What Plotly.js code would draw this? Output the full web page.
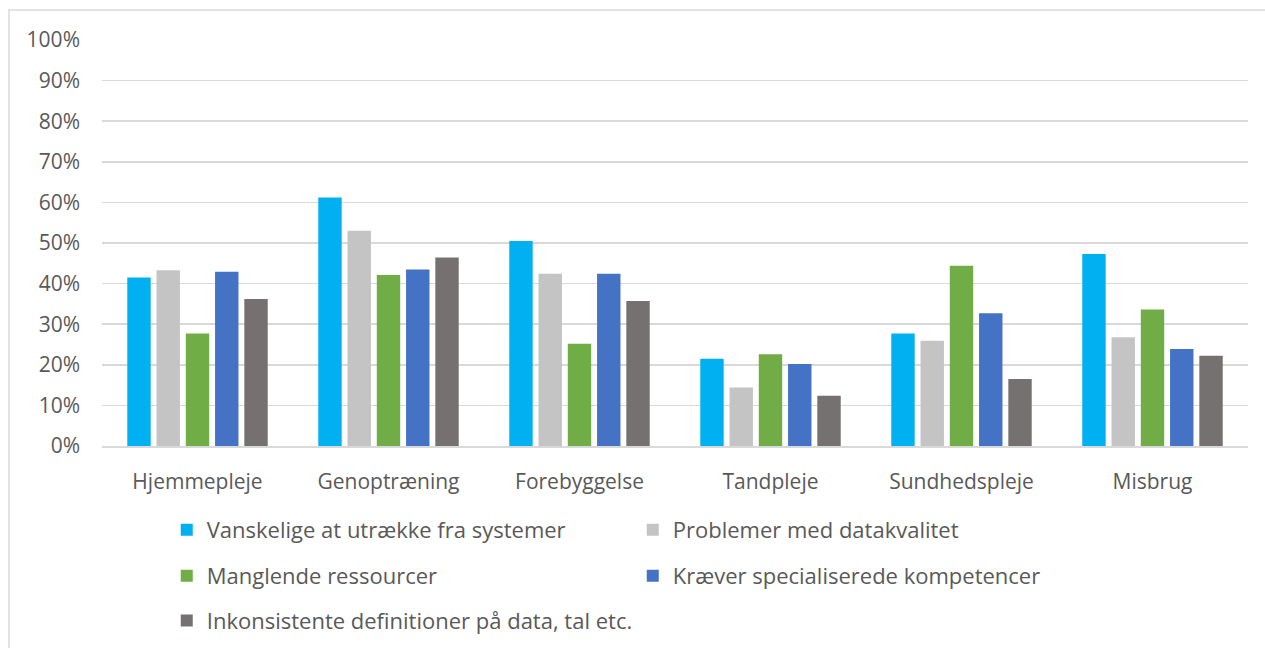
<!DOCTYPE html>
<html>
<head>
<meta charset="utf-8">
<script src="https://cdn.plot.ly/plotly-3.0.1.min.js"></script>
<style>html,body{margin:0;padding:0;background:#fff;}#chart{width:1265px;height:648px;}</style>
</head>
<body>
<div id="chart"></div>
<script>
const categories = ["Hjemmepleje", "Genoptræning", "Forebyggelse", "Tandpleje", "Sundhedspleje", "Misbrug"];
const seriesNames = [
  "Vanskelige at utrække fra systemer",
  "Problemer med datakvalitet",
  "Manglende ressourcer",
  "Kræver specialiserede kompetencer",
  "Inkonsistente definitioner på data, tal etc."
];
const vanskelige = [0.415, 0.612, 0.505, 0.215, 0.277, 0.473];
const datakvalitet = [0.433, 0.530, 0.424, 0.144, 0.259, 0.268];
const ressourcer = [0.277, 0.421, 0.252, 0.226, 0.444, 0.336];
const kompetencer = [0.429, 0.435, 0.424, 0.202, 0.327, 0.239];
const definitioner = [0.362, 0.464, 0.357, 0.124, 0.165, 0.222];
const yTickVals = [0, 0.1, 0.2, 0.3, 0.4, 0.5, 0.6, 0.7, 0.8, 0.9, 1.0];
const yTickText = ["0%", "10%", "20%", "30%", "40%", "50%", "60%", "70%", "80%", "90%", "100%"];

const colors = ["#00B0F0", "#C4C4C4", "#70AD47", "#4472C4", "#767171"];
const values = [vanskelige, datakvalitet, ressourcer, kompetencer, definitioner];
const legendIds = ["legend", "legend", "legend2", "legend2", "legend3"];

const traces = values.map((v, i) => ({
  type: "bar",
  name: seriesNames[i],
  x: categories,
  y: v,
  marker: {color: colors[i], line: {width: 0}},
  legend: legendIds[i],
  hoverinfo: "x+y+name"
}));

const family = "Open Sans, Noto Sans, sans-serif";
const font = {family: family, size: 21, color: "#595959"};
const catFont = {family: family, size: 21, color: "#595959"};
const legFont = {family: family, size: 22, color: "#595959"};
const legendBase = {
  orientation: "h",
  xanchor: "left",
  yanchor: "middle",
  x: 0.0565,
  entrywidth: 421,
  entrywidthmode: "pixels",
  font: legFont,
  bgcolor: "rgba(0,0,0,0)",
  itemclick: false,
  itemdoubleclick: false
};

const layout = {
  width: 1265,
  height: 648,
  margin: {l: 102, r: 17, t: 40, b: 202, autoexpand: false},
  paper_bgcolor: "#ffffff",
  plot_bgcolor: "#ffffff",
  font: font,
  barmode: "group",
  bargap: 0.234,
  bargroupgap: 0.2,
  xaxis: {
    type: "category",
    showgrid: false,
    showline: true,
    linecolor: "#D9D9D9",
    linewidth: 1.5,
    ticks: "",
    ticklabelstandoff: 16,
    tickfont: catFont,
    automargin: false,
    fixedrange: true
  },
  yaxis: {
    range: [0, 1.0],
    tickvals: yTickVals,
    ticktext: yTickText,
    showgrid: true,
    gridcolor: "#D9D9D9",
    gridwidth: 1.5,
    zeroline: false,
    showline: false,
    ticks: "",
    ticklabelstandoff: 21,
    tickfont: font,
    automargin: false,
    fixedrange: true
  },
  showlegend: true,
  legend: Object.assign({}, legendBase, {y: -0.207}),
  legend2: Object.assign({}, legendBase, {y: -0.32}),
  legend3: Object.assign({}, legendBase, {y: -0.43}),
  shapes: [{
    type: "rect",
    xref: "paper", yref: "paper",
    x0: (9 - 102) / 1146, x1: (1275 - 102) / 1146,
    y0: (446 - 660) / 406, y1: (446 - 10) / 406,
    line: {color: "#D9D9D9", width: 1.5},
    fillcolor: "rgba(0,0,0,0)",
    layer: "below"
  }]
};

Plotly.newPlot("chart", traces, layout, {displayModeBar: false, staticPlot: true});
</script>
</body>
</html>
